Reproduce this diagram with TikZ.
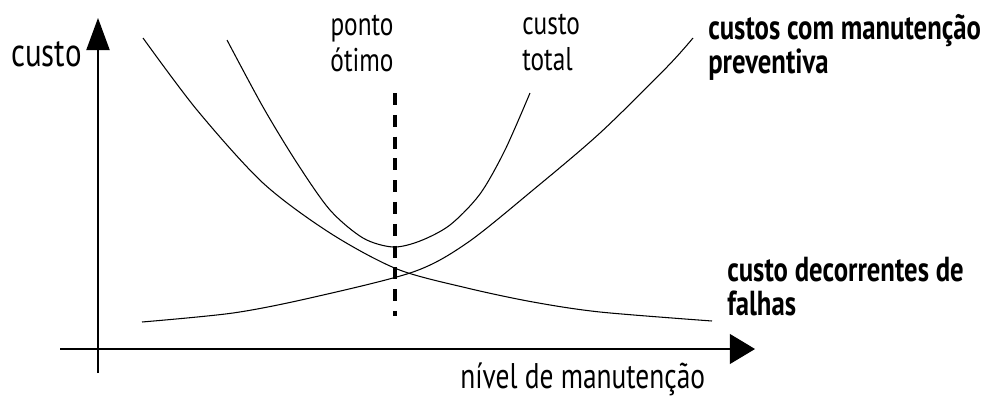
\documentclass[tikz,border=0pt]{standalone}
\usepackage{fontspec}
\setmainfont{PT Sans}
\usetikzlibrary{arrows.meta}
\begin{document}
\begin{tikzpicture}[x=0.025cm,y=-0.025cm]
	% estilos
	\tikzstyle{eixo}=[line width=0.9pt]
	\tikzstyle{curva}=[line width=0.75pt]
	\tikzstyle{otimo}=[line width=2.6pt,dash pattern=on 8.5pt off 7pt]
	\tikzstyle{texto}=[inner sep=0pt,align=left,font=\fontsize{18}{19.5}\selectfont,yscale=1.3,transform shape]
	\tikzstyle{destaque}=[texto,font=\fontsize{19}{18.5}\selectfont\bfseries]
	\useasboundingbox (0,0) rectangle (992,396);
	% os eixos
	\coordinate (ybase) at (98,373);
	\coordinate (ytopo) at (98,18);
	\coordinate (xini) at (60,349);
	\coordinate (xfim) at (755,349);
	\draw[eixo,-{Triangle[length=0.8cm,width=0.58cm]}] (ybase) -- (ytopo);
	\draw[eixo,-{Triangle[length=0.63cm,width=0.75cm]}] (xini) -- (xfim);
	% as curvas
	\draw[curva] plot[smooth] coordinates {(143,38) (197,110) (263,183) (330,233) (397,269) (467,288) (533,302) (600,312) (712,321)};
	\draw[curva] plot[smooth] coordinates {(142,322) (233,313) (310,298) (413,272) (467,243) (533,190) (600,133) (667,67) (693,38)};
	\draw[curva] plot[smooth] coordinates {(227,40) (263,107) (297,163) (330,210) (363,238) (393,247) (420,241) (450,225) (480,194) (505,150) (530,93)};
	% o ponto ótimo
	\coordinate (otopo) at (395,93);
	\coordinate (obase) at (395,316);
	\draw[otimo] (otopo) -- (obase);
	% os textos
	\node[texto,anchor=base east,font=\fontsize{22}{24}\selectfont] (custo) at (82,66) {custo};
	\node[texto,anchor=base,align=center] (ponto) at (362,71) {ponto\\ótimo};
	\node[texto,anchor=base west] (total) at (522,70) {custo\\total};
	\node[destaque,anchor=base west] (preventiva) at (708,73) {custos com manutenção\\preventiva};
	\node[destaque,anchor=base west] (falhas) at (727,315) {custo decorrentes de\\falhas};
	\node[texto,anchor=base west,font=\fontsize{19.5}{20}\selectfont] (nivel) at (460,388) {nível de manutenção};
\end{tikzpicture}
\end{document}
